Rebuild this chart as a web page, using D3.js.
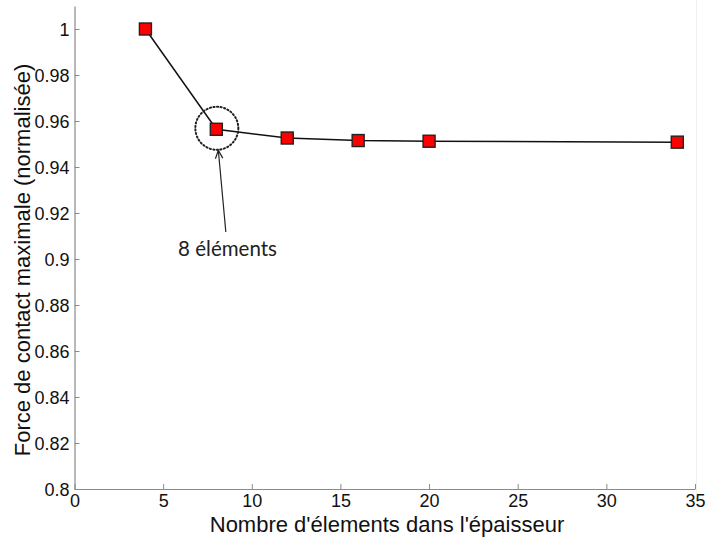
<!DOCTYPE html>
<html><head><meta charset="utf-8">
<script src="https://cdn.jsdelivr.net/npm/d3@7"></script>
<style>body{margin:0;background:#fff}svg{display:block}</style>
</head><body><svg id="c" width="706" height="538"></svg>
<script>
const xValues = [4, 8, 12, 16, 20, 34];
const yValues = [1.0, 0.9564, 0.9526, 0.9515, 0.9512, 0.9508];
const xTicks = [0, 5, 10, 15, 20, 25, 30, 35];
const yTicks = [0.8, 0.82, 0.84, 0.86, 0.88, 0.9, 0.92, 0.94, 0.96, 0.98, 1];
const xLabel = "Nombre d'élements dans l'épaisseur";
const yLabel = "Force de contact maximale (normalisée)";
const annotationText = "8 éléments";
const annotatedIndex = 1;

const svg = d3.select("#c");
const L = 74.5, R = 695, T = 6, B = 489;
const x = d3.scaleLinear().domain([0, 35]).range([L, R]);
const y = d3.scaleLinear().domain([0.8, 1.01]).range([B, T]);

// faint right edge
svg.append("line").attr("x1", 696.5).attr("x2", 696.5).attr("y1", 0).attr("y2", 500)
  .attr("stroke", "#f0f0f0").attr("stroke-width", 1);

const axisColor = "#8a8a8a";
const fontTick = "Liberation Sans, Arial, sans-serif";

const xAxis = svg.append("g").attr("transform", `translate(0,${B})`)
  .call(d3.axisBottom(x).tickValues(xTicks).tickSize(-5).tickPadding(5).tickSizeOuter(0).tickFormat(d3.format("d")));
const yAxis = svg.append("g").attr("transform", `translate(${L},0)`)
  .call(d3.axisLeft(y).tickValues(yTicks).tickSize(-5).tickPadding(5).tickSizeOuter(0).tickFormat(d => d3.format("")(+d.toFixed(2))));
[xAxis, yAxis].forEach(g => {
  g.select(".domain").attr("stroke", axisColor).attr("stroke-width", 1.2);
  g.selectAll(".tick line").attr("stroke", axisColor);
  g.selectAll("text").attr("fill", "#111").style("font-family", fontTick).style("font-size", "18px");
});
xAxis.selectAll("text").attr("dy", "0.71em");
yAxis.selectAll("text").attr("dy", "0.35em");

// axis labels
svg.append("text").attr("x", 387).attr("y", 532).attr("text-anchor", "middle")
  .style("font-family", fontTick).style("font-size", "22px").attr("fill", "#111").text(xLabel);
svg.append("text").attr("transform", `translate(30,260) rotate(-90)`).attr("text-anchor", "middle")
  .style("font-family", fontTick).style("font-size", "22px").attr("fill", "#111").text(yLabel);

// line
const pts = xValues.map((v, i) => [v, yValues[i]]);
svg.append("path").datum(pts)
  .attr("d", d3.line().x(d => x(d[0])).y(d => y(d[1])))
  .attr("fill", "none").attr("stroke", "#111").attr("stroke-width", 1.5);

// markers
const s = 12;
svg.selectAll("rect.m").data(pts).enter().append("rect").attr("class", "m")
  .attr("x", d => x(d[0]) - s / 2).attr("y", d => y(d[1]) - s / 2)
  .attr("width", s).attr("height", s)
  .attr("fill", "#ff0000").attr("stroke", "#222").attr("stroke-width", 1.4);

// annotation: dotted circle, arrow, text
const ax = x(xValues[annotatedIndex]) + 0.5, ay = y(yValues[annotatedIndex]) - 1;
const rad = 21.5;
svg.append("circle").attr("cx", ax).attr("cy", ay).attr("r", rad)
  .attr("fill", "none").attr("stroke", "#222").attr("stroke-width", 2)
  .attr("stroke-dasharray", "1.2 2.4").attr("stroke-linecap", "round");

const tipX = ax + 1.5, tipY = ay + rad + 0.5;
const tailX = ax + 9, tailY = 232;
svg.append("line").attr("x1", tailX).attr("y1", tailY).attr("x2", tipX).attr("y2", tipY)
  .attr("stroke", "#222").attr("stroke-width", 1.2);
const ang = Math.atan2(tipY - tailY, tipX - tailX);
const hl = 9, ha = 0.42;
const hp = [
  [tipX - hl * Math.cos(ang - ha), tipY - hl * Math.sin(ang - ha)],
  [tipX, tipY],
  [tipX - hl * Math.cos(ang + ha), tipY - hl * Math.sin(ang + ha)]
];
svg.append("path").attr("d", d3.line()(hp)).attr("fill", "none").attr("stroke", "#222").attr("stroke-width", 1.2);

svg.append("text").attr("x", 227.5).attr("y", 256).attr("text-anchor", "middle")
  .style("font-family", "Lato, 'Open Sans', sans-serif").style("font-size", "20.5px").attr("fill", "#222")
  .text(annotationText);
</script></body></html>
